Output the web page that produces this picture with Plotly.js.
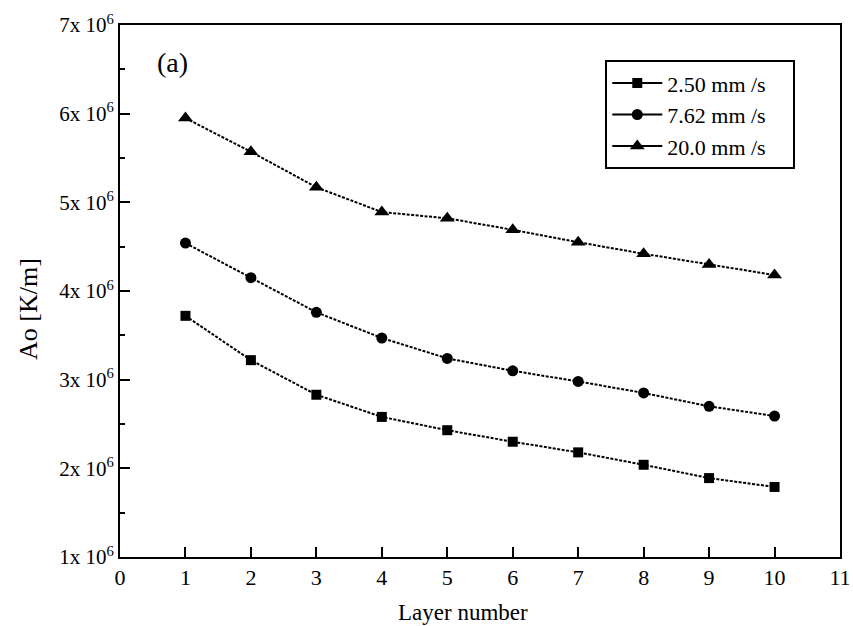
<!DOCTYPE html>
<html>
<head>
<meta charset="utf-8">
<script src="https://cdn.plot.ly/plotly-3.0.1.min.js"></script>
<style>body{margin:0;padding:0;background:#fff}#chart{width:853px;height:626px}</style>
</head>
<body>
<div id="chart"></div>
<script>
const layers = [1, 2, 3, 4, 5, 6, 7, 8, 9, 10];
const seriesNames = ["2.50 mm /s", "7.62 mm /s", "20.0 mm /s"];
const v250 = [3.72e6, 3.22e6, 2.83e6, 2.58e6, 2.43e6, 2.30e6, 2.18e6, 2.04e6, 1.89e6, 1.79e6];
const v762 = [4.54e6, 4.15e6, 3.76e6, 3.47e6, 3.24e6, 3.10e6, 2.98e6, 2.85e6, 2.70e6, 2.59e6];
const v200 = [5.95e6, 5.57e6, 5.17e6, 4.89e6, 4.82e6, 4.69e6, 4.55e6, 4.42e6, 4.30e6, 4.18e6];
const yTickVals = [1e6, 2e6, 3e6, 4e6, 5e6, 6e6, 7e6];
const yTickText = ["1x 10<sup>6</sup>", "2x 10<sup>6</sup>", "3x 10<sup>6</sup>", "4x 10<sup>6</sup>", "5x 10<sup>6</sup>", "6x 10<sup>6</sup>", "7x 10<sup>6</sup>"];
const xTickVals = [0, 1, 2, 3, 4, 5, 6, 7, 8, 9, 10, 11];

const font = "Liberation Serif, Times New Roman, serif";
const symbols = ["square", "circle", "triangle-up"];
const sizes = [10, 11, 13];
const series = [v250, v762, v200];
const data = [];
series.forEach((ys, i) => {
  data.push({
    x: layers, y: ys, name: seriesNames[i], type: "scatter", mode: "lines+markers", showlegend: false,
    line: {color: "#000", width: 2, dash: "3px,1.5px"},
    marker: {symbol: symbols[i], size: sizes[i], color: "#000"}
  });
});
series.forEach((ys, i) => {
  data.push({
    x: [null], y: [null], name: seriesNames[i] + "\u2003", type: "scatter", mode: "lines+markers", showlegend: true,
    line: {color: "#000", width: 2},
    marker: {symbol: symbols[i], size: sizes[i], color: "#000"}
  });
});

const layout = {
  width: 853, height: 626,
  margin: {l: 120, r: 13, t: 25, b: 69},
  paper_bgcolor: "#fff", plot_bgcolor: "#fff",
  font: {family: font, color: "#000", size: 20},
  showlegend: true,
  legend: {x: 0.674, y: 0.934, xanchor: "left", yanchor: "top", bordercolor: "#000", borderwidth: 2,
    bgcolor: "#fff", font: {family: font, size: 22}, tracegroupgap: 0, itemwidth: 50},
  xaxis: {
    range: [0, 11], tickvals: xTickVals, ticks: "inside", ticklen: 10, tickwidth: 2, tickcolor: "#000",
    showline: true, linewidth: 2, linecolor: "#000", mirror: true, showgrid: false, zeroline: false,
    tickfont: {family: font, size: 22}
  },
  yaxis: {
    range: [1e6, 7e6], tickvals: yTickVals, ticktext: yTickText, ticks: "inside", ticklen: 10, tickwidth: 2, tickcolor: "#000",
    minor: {ticks: "inside", ticklen: 5, tickwidth: 2, tickcolor: "#000", dtick: 5e5, tick0: 1e6, showgrid: false},
    showline: true, linewidth: 2, linecolor: "#000", mirror: true, showgrid: false, zeroline: false,
    tickfont: {family: font, size: 21}
  },
  annotations: [
    {text: "(a)", xref: "paper", yref: "paper", x: 0.048, y: 0.930, xanchor: "left", yanchor: "middle",
      showarrow: false, font: {family: font, size: 28}},
    {text: "Layer number", xref: "paper", yref: "paper", x: 0.476, y: -0.105, xanchor: "center", yanchor: "middle",
      showarrow: false, font: {family: font, size: 23}},
    {text: "Ao [K/m]", xref: "paper", yref: "paper", x: -0.128, y: 0.466, xanchor: "center", yanchor: "middle",
      textangle: -90, showarrow: false, font: {family: font, size: 26}}
  ]
};
Plotly.newPlot("chart", data, layout, {displayModeBar: false, staticPlot: true});
</script>
</body>
</html>
